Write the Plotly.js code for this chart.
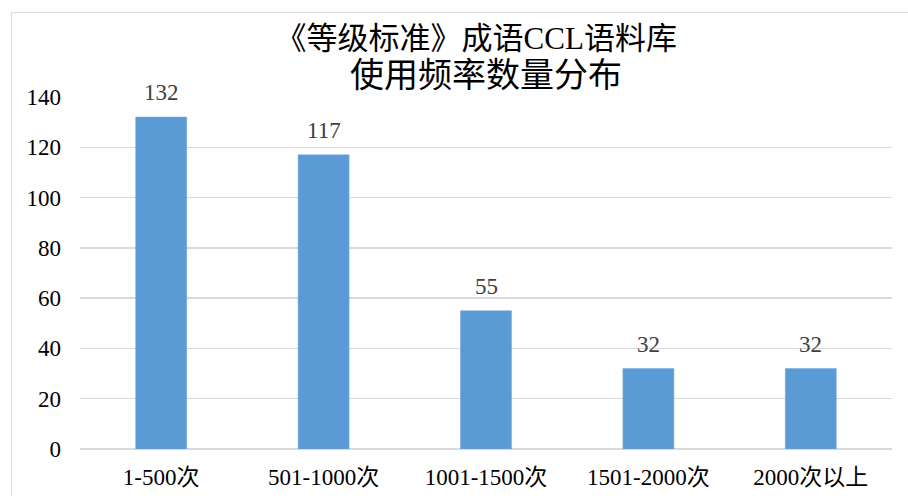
<!DOCTYPE html>
<html>
<head>
<meta charset="utf-8">
<script src="https://cdn.plot.ly/plotly-3.0.1.min.js"></script>
<style>
  html, body { margin: 0; padding: 0; background: #ffffff; }
  #wrap { position: relative; width: 908px; height: 496px; overflow: hidden; }
  #chart { position: absolute; left: 0; top: 0; width: 908px; height: 496px; }
  #frame { position: absolute; left: 11px; top: 12px; width: 920px; height: 500px;
           border-left: 1px solid #d9d9d9; border-top: 1px solid #d9d9d9; pointer-events: none; }
</style>
</head>
<body>
<div id="wrap">
  <div id="chart"></div>
  <div id="frame"></div>
</div>
<script>
// Frequency bands of idiom usage in the CCL corpus and the idiom counts per band
const categories = ['1-500次', '501-1000次', '1001-1500次', '1501-2000次', '2000次以上'];
const counts = [132, 117, 55, 32, 32];
const yTicks = [0, 20, 40, 60, 80, 100, 120, 140];
const titleLine1 = '《等级标准》成语CCL语料库';
const titleLine2 = '使用频率数量分布';

const FONT = '"Liberation Serif", "Times New Roman", "Noto Sans CJK SC", serif';

const barTrace = {
  type: 'bar',
  x: categories,
  y: counts,
  marker: { color: '#5b9bd5', line: { color: '#6fa8dc', width: 0.5 } },
  hoverinfo: 'x+y',
  showlegend: false
};

// value labels above each bar
const valueLabels = categories.map((c, i) => ({
  x: c,
  y: counts[i],
  xref: 'x',
  yref: 'y',
  text: String(counts[i]),
  showarrow: false,
  yanchor: 'bottom',
  yshift: 10,
  font: { family: FONT, size: 23, color: '#404040' }
}));

// second line of the title, set a little larger than the first
const secondTitleLine = {
  xref: 'paper',
  yref: 'paper',
  x: 0.5,
  y: 1.0625,
  xanchor: 'center',
  yanchor: 'middle',
  text: titleLine2,
  showarrow: false,
  font: { family: FONT, size: 34, color: '#000000' }
};

const layout = {
  width: 908,
  height: 496,
  margin: { l: 80, r: 16, t: 97, b: 47 },
  paper_bgcolor: 'rgba(0,0,0,0)',
  plot_bgcolor: 'rgba(0,0,0,0)',
  bargap: 0.686,
  title: {
    text: titleLine1,
    x: 0.488,
    xref: 'paper',
    xanchor: 'center',
    y: 1 - 38.5 / 496,
    yref: 'container',
    yanchor: 'middle',
    font: { family: FONT, size: 31, color: '#000000' }
  },
  xaxis: {
    type: 'category',
    showgrid: false,
    zeroline: false,
    showline: false,
    ticks: '',
    ticklabelstandoff: 12,
    tickfont: { family: FONT, size: 23, color: '#000000' }
  },
  yaxis: {
    range: [0, 140],
    tickvals: yTicks,
    ticktext: yTicks.map(String),
    showgrid: true,
    gridcolor: '#d9d9d9',
    gridwidth: 1.3,
    zeroline: true,
    zerolinecolor: '#d9d9d9',
    zerolinewidth: 1.3,
    showline: false,
    ticks: '',
    ticklabelstandoff: 18,
    tickfont: { family: FONT, size: 23, color: '#000000' }
  },
  annotations: valueLabels.concat([secondTitleLine])
};

Plotly.newPlot('chart', [barTrace], layout, { displayModeBar: false, staticPlot: true });
</script>
</body>
</html>
